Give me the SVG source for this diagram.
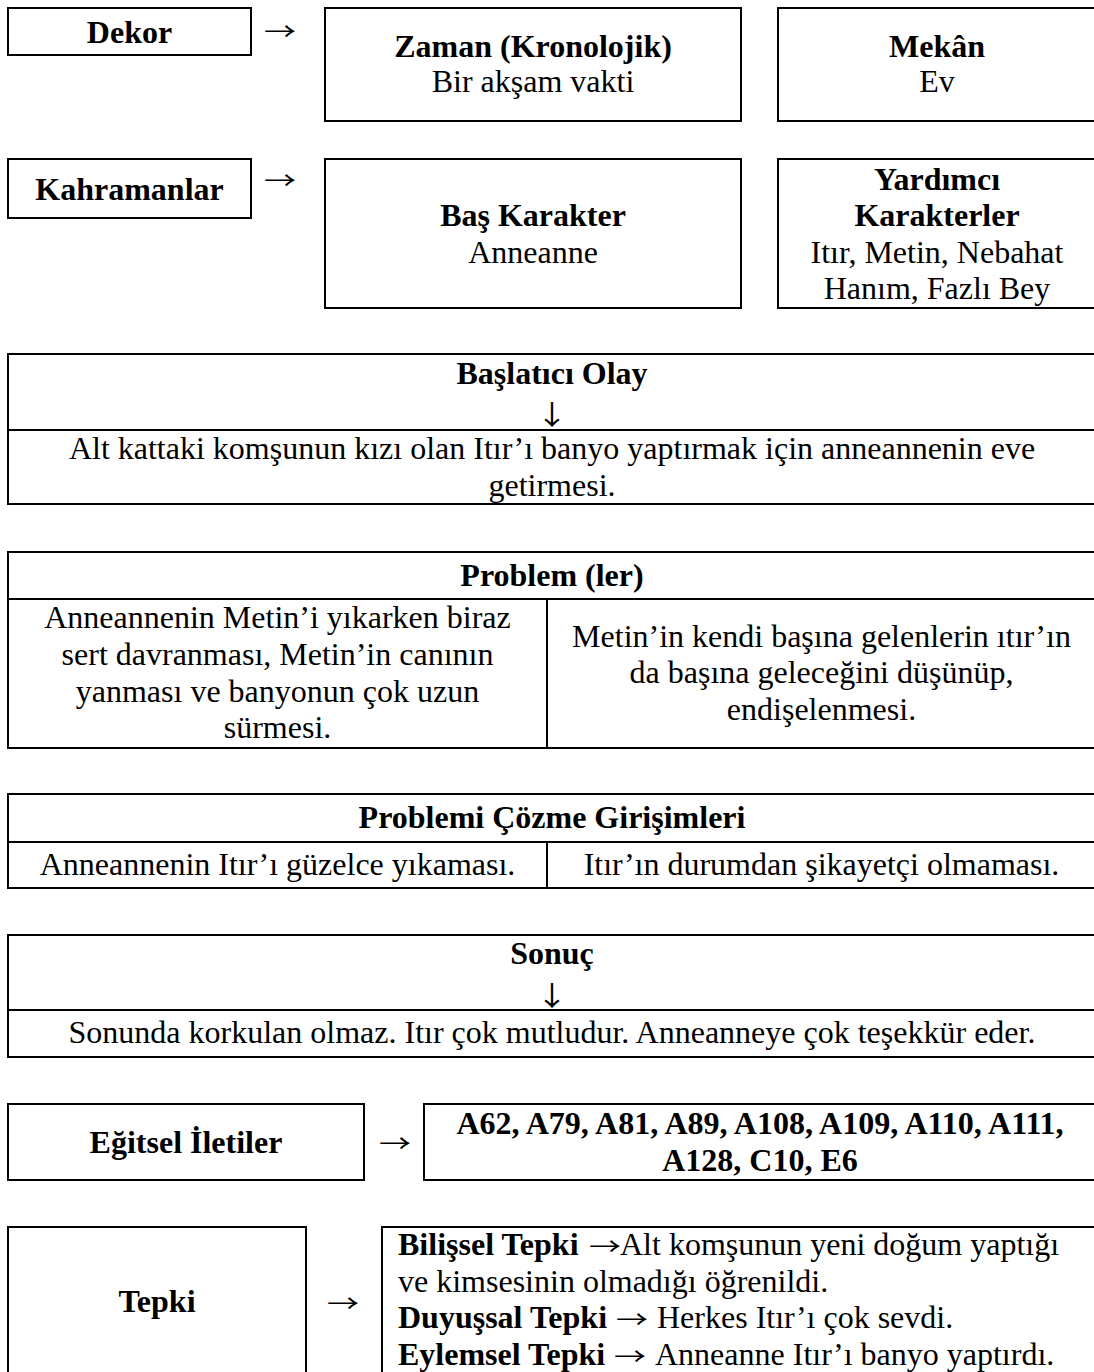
<svg xmlns="http://www.w3.org/2000/svg" width="1094" height="1372" viewBox="0 0 1094 1372">
<style>
  .b { fill: none; stroke: #000; stroke-width: 2; }
  .l { stroke: #000; stroke-width: 2; fill: none; }
  text { font-family: "Liberation Serif", "Times New Roman", serif; font-size: 32px; fill: #000; }
  .t { font-weight: bold; }
  .c { text-anchor: middle; }
  .ar { font-family: "Noto Sans CJK JP", "Noto Sans CJK SC", sans-serif; font-weight: normal; }
</style>
<rect width="1094" height="1372" fill="#fff"/>

<g id="dekor">
  <rect class="b" x="8" y="8" width="243" height="47"/>
  <text class="t c" x="129.5" y="43">Dekor</text>
</g>
<g id="zaman">
  <rect class="b" x="325" y="8" width="416" height="113"/>
  <text class="t c" x="533" y="57">Zaman (Kronolojik)</text>
  <text class="c" x="533" y="92">Bir akşam vakti</text>
</g>
<g id="mekan">
  <rect class="b" x="778" y="8" width="320" height="113"/>
  <text class="t c" x="937" y="57">Mekân</text>
  <text class="c" x="937" y="92">Ev</text>
</g>

<g id="kahramanlar">
  <rect class="b" x="8" y="159" width="243" height="59"/>
  <text class="t c" x="129.5" y="200">Kahramanlar</text>
</g>
<g id="bas-karakter">
  <rect class="b" x="325" y="159" width="416" height="149"/>
  <text class="t c" x="533" y="226">Baş Karakter</text>
  <text class="c" x="533" y="262.5">Anneanne</text>
</g>
<g id="yardimci">
  <rect class="b" x="778" y="159" width="320" height="149"/>
  <text class="t c" x="937" y="189.5">Yardımcı</text>
  <text class="t c" x="937" y="226">Karakterler</text>
  <text class="c" x="937" y="262.5">Itır, Metin, Nebahat</text>
  <text class="c" x="937" y="299">Hanım, Fazlı Bey</text>
</g>

<g id="baslatici">
  <rect class="b" x="8" y="354" width="1090" height="150"/>
  <line class="l" x1="8" y1="430" x2="1098" y2="430"/>
  <text class="t c" x="552" y="384">Başlatıcı Olay</text>
  <text class="c" x="552" y="459">Alt kattaki komşunun kızı olan Itır’ı banyo yaptırmak için anneannenin eve</text>
  <text class="c" x="552" y="496">getirmesi.</text>
</g>

<g id="problem">
  <rect class="b" x="8" y="552" width="1090" height="196"/>
  <line class="l" x1="8" y1="599" x2="1098" y2="599"/>
  <line class="l" x1="547" y1="599" x2="547" y2="748"/>
  <text class="t c" x="552" y="586">Problem (ler)</text>
  <text class="c" x="277.5" y="628">Anneannenin Metin’i yıkarken biraz</text>
  <text class="c" x="277.5" y="665">sert davranması, Metin’in canının</text>
  <text class="c" x="277.5" y="702">yanması ve banyonun çok uzun</text>
  <text class="c" x="277.5" y="738">sürmesi.</text>
  <text class="c" x="821.5" y="646.5">Metin’in kendi başına gelenlerin ıtır’ın</text>
  <text class="c" x="821.5" y="683.3">da başına geleceğini düşünüp,</text>
  <text class="c" x="821.5" y="720">endişelenmesi.</text>
</g>

<g id="cozum">
  <rect class="b" x="8" y="794" width="1090" height="94"/>
  <line class="l" x1="8" y1="842" x2="1098" y2="842"/>
  <line class="l" x1="547" y1="842" x2="547" y2="888"/>
  <text class="t c" x="552" y="828">Problemi Çözme Girişimleri</text>
  <text class="c" x="277.5" y="875">Anneannenin Itır’ı güzelce yıkaması.</text>
  <text class="c" x="821.5" y="875">Itır’ın durumdan şikayetçi olmaması.</text>
</g>

<g id="sonuc">
  <rect class="b" x="8" y="935" width="1090" height="122"/>
  <line class="l" x1="8" y1="1010" x2="1098" y2="1010"/>
  <text class="t c" x="552" y="964">Sonuç</text>
  <text class="c" x="552" y="1043">Sonunda korkulan olmaz. Itır çok mutludur. Anneanneye çok teşekkür eder.</text>
</g>

<g id="egitsel">
  <rect class="b" x="8" y="1104" width="356" height="76"/>
  <text class="t c" x="186" y="1153">Eğitsel İletiler</text>
</g>
<g id="iletiler">
  <rect class="b" x="424" y="1104" width="674" height="76"/>
  <text class="t c" x="760" y="1134">A62, A79, A81, A89, A108, A109, A110, A111,</text>
  <text class="t c" x="760" y="1171">A128, C10, E6</text>
</g>

<g id="tepki">
  <rect class="b" x="8" y="1227" width="298" height="180"/>
  <text class="t c" x="157" y="1312">Tepki</text>
</g>
<g id="tepki-detay">
  <rect class="b" x="382" y="1227" width="716" height="180"/>
  <text class="t" x="398" y="1255">Bilişsel Tepki</text>
  <text class="ar" transform="translate(589,1255) scale(1,0.75)">→</text>
  <text x="620" y="1255">Alt komşunun yeni doğum yaptığı</text>
  <text x="398" y="1292">ve kimsesinin olmadığı öğrenildi.</text>
  <text class="t" x="398" y="1328">Duyuşsal Tepki</text>
  <text class="ar" transform="translate(616,1328) scale(1,0.75)">→</text>
  <text x="657" y="1328">Herkes Itır’ı çok sevdi.</text>
  <text class="t" x="398" y="1365">Eylemsel Tepki</text>
  <text class="ar" transform="translate(614,1365) scale(1,0.75)">→</text>
  <text x="655" y="1365">Anneanne Itır’ı banyo yaptırdı.</text>
</g>

<g id="connectors">
  <text class="ar" transform="translate(264,40) scale(1,0.75)">→</text>
  <text class="ar" transform="translate(264,189) scale(1,0.75)">→</text>
  <text class="ar c" transform="translate(552,425) scale(1,0.85)">↓</text>
  <text class="ar c" transform="translate(552,1006) scale(1,0.85)">↓</text>
  <text class="ar" transform="translate(379,1152) scale(1,0.75)">→</text>
  <text class="ar" transform="translate(327,1312) scale(1,0.75)">→</text>
</g>
</svg>
